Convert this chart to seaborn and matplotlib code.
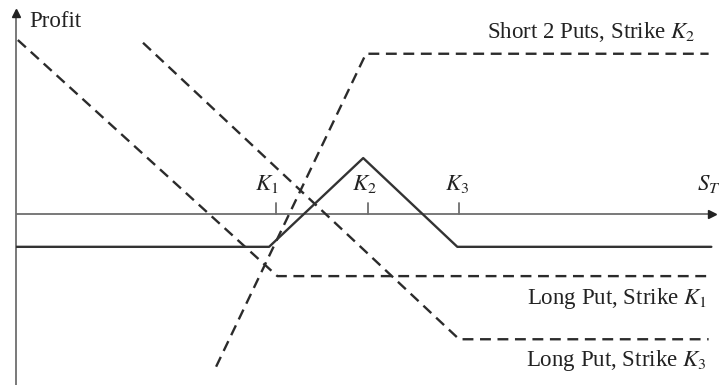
import matplotlib
matplotlib.use("Agg")
import matplotlib.pyplot as plt
import seaborn as sns
import pandas as pd

sns.set_theme(style="white")
plt.rcParams['font.family'] = ['Liberation Serif', 'DejaVu Serif']
plt.rcParams['mathtext.fontset'] = 'stix'

# Strike prices (horizontal units)
strikes = [30, 40, 50]
strike_labels = ["$K_1$", "$K_2$", "$K_3$"]

# Profit lines: (S_T, profit) break points
butterfly_S = [1.5, 29.2, 39.5, 49.8, 77.6]
butterfly_P = [-3.6, -3.6, 6.1, -3.6, -3.6]

long_k1_S = [1.7, 30.1, 77.6]
long_k1_P = [19.0, -6.8, -6.8]

long_k3_S = [15.4, 50.0, 77.3]
long_k3_P = [18.7, -13.7, -13.7]

short_k2_S = [23.4, 39.8, 77.3]
short_k2_P = [-16.7, 17.5, 17.5]

xmin, xmax = 1.5, 78.0
ymin, ymax = -18.7, 22.5

fig = plt.figure(figsize=(7.19, 3.85), dpi=100)
ax = fig.add_axes([16 / 719, 0, 699 / 719, (385 - 8) / 385])
ax.set_xlim(xmin, xmax)
ax.set_ylim(ymin, ymax)

axis_col = "#6e6e6e"
dash_style = (0, (4.6, 2.8))

def draw(S, P, ls, col, lw):
    df = pd.DataFrame({"S": S, "P": P})
    sns.lineplot(data=df, x="S", y="P", ax=ax, sort=False, estimator=None,
                 color=col, linewidth=lw, linestyle=ls)

draw(long_k1_S, long_k1_P, dash_style, "#2b2b2b", 1.7)
draw(long_k3_S, long_k3_P, dash_style, "#2b2b2b", 1.7)
draw(short_k2_S, short_k2_P, dash_style, "#2b2b2b", 1.7)
draw(butterfly_S, butterfly_P, "-", "#333333", 1.7)

# Axes with arrows
for s in ["top", "right", "left", "bottom"]:
    ax.spines[s].set_visible(False)
ax.plot([xmin, xmax - 0.3], [0, 0], color=axis_col, lw=1.3, zorder=1)
ax.plot([xmin, xmin], [ymin, ymax - 0.3], color=axis_col, lw=1.3, zorder=1,
        clip_on=False)
ax.plot([xmax - 0.3], [0], marker=">", color="#222222", markersize=6, clip_on=False)
ax.plot([xmin], [ymax - 0.5], marker="^", color="#222222", markersize=6, clip_on=False)

# Strike ticks
for k in strikes:
    ax.plot([k, k], [0, 1.2], color=axis_col, lw=1.3)

ax.set_xticks([])
ax.set_yticks([])
ax.set_xlabel("")
ax.set_ylabel("")

txt_col = "#222222"
fs = 16.5
for k, lab, dx in zip(strikes, strike_labels, [-1.0, -0.4, -0.2]):
    ax.text(k + dx, 3.3, lab, ha="center", va="center", fontsize=fs, color=txt_col)
ax.text(76.0, 3.3, "$S_T$", ha="left", va="center", fontsize=fs, color=txt_col,
        clip_on=False)
ax.text(3.0, 21.0, "Profit", ha="left", va="center", fontsize=fs, color=txt_col)
ax.text(75.9, 19.9, "Short 2 Puts, Strike $K_2$", ha="right", va="center",
        fontsize=fs, color=txt_col)
ax.text(77.1, -9.3, "Long Put, Strike $K_1$", ha="right", va="center",
        fontsize=fs, color=txt_col)
ax.text(77.1, -16.0, "Long Put, Strike $K_3$", ha="right", va="center",
        fontsize=fs, color=txt_col)

fig.savefig("out.png", dpi=100)
